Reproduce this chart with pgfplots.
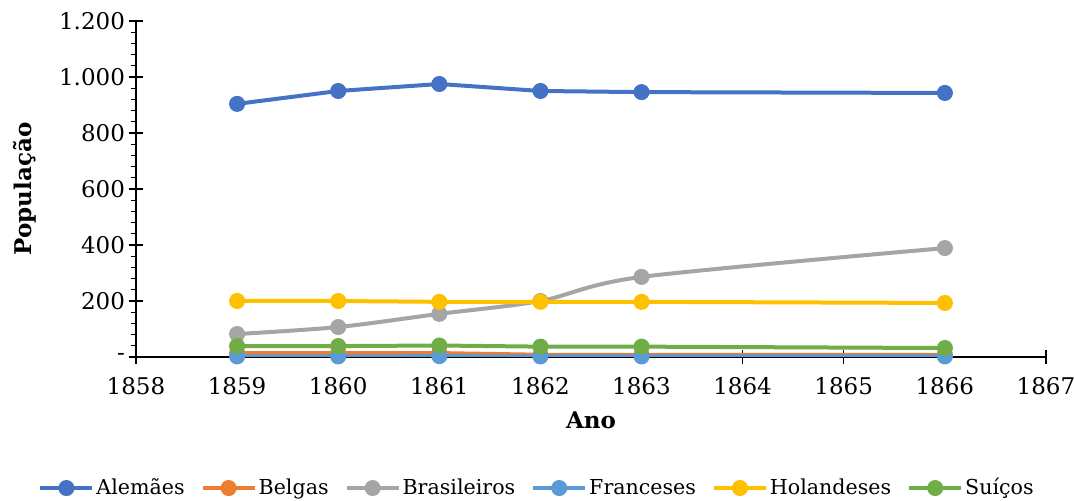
\documentclass[border=0pt]{standalone}
\usepackage{fontspec}
\setmainfont{DejaVu Serif}
\usepackage{pgfplots}
\pgfplotsset{compat=1.18}

\definecolor{cAle}{HTML}{4472C4}
\definecolor{cBel}{HTML}{ED7D31}
\definecolor{cBra}{HTML}{A5A5A5}
\definecolor{cFra}{HTML}{5B9BD5}
\definecolor{cHol}{HTML}{FFC000}
\definecolor{cSui}{HTML}{70AD47}

\begin{document}
\begin{tikzpicture}
\begin{axis}[
  name=ax,
  scale only axis,
  width=455pt, height=168pt,
  xmin=1858, xmax=1867,
  ymin=0, ymax=1200,
  xtick={1858,1859,...,1867},
  ytick={0,200,...,1200},
  yticklabels={-,200,400,600,800,{1.000},{1.200}},
  minor y tick num=4,
  axis x line=bottom, axis y line=left,
  axis line style={-, black, line width=0.6pt},
  tick align=center,
  major tick length=7pt,
  minor tick length=2.5pt,
  tick style={black, line width=0.6pt},
  minor y tick style={xshift=-1.25pt},
  /pgf/number format/assume math mode=true,
  /pgf/number format/1000 sep={},
  tick label style={font=\fontsize{11.5}{13}\selectfont},
  xticklabel style={yshift=-3pt},
  yticklabel style={xshift=1.5pt},
  xlabel={\textbf{Ano}},
  ylabel={\textbf{População}},
  xlabel style={at={(axis description cs:0.5,-0.1875)}, anchor=center, font=\fontsize{11.5}{13}\selectfont},
  ylabel style={at={(axis description cs:-0.122,0.5)}, anchor=center, font=\fontsize{11.5}{13}\selectfont},
  every axis plot/.append style={line width=2pt, mark=*, mark size=3pt, mark options={solid}},
  legend columns=6,
  legend style={at={(axis description cs:0.4407,-0.39)}, anchor=center, draw=none,
    font=\fontsize{10.3}{12}\selectfont,
    nodes={inner xsep=1pt},
    /tikz/every even column/.append style={column sep=7pt}},
  legend image code/.code={\draw[#1] (0pt,0pt) -- (13pt,0pt) -- (26pt,0pt); \draw[#1, mark repeat=2, mark phase=2] plot coordinates {(0pt,0pt) (13pt,0pt) (26pt,0pt)};},
]
\addplot[color=cAle] coordinates {(1859,904)(1860,950)(1861,975)(1862,950)(1863,946)(1866,943)};
\addlegendentry{Alemães}
\addplot[color=cBel] coordinates {(1859,14)(1860,14)(1861,14)(1862,8)(1863,8)(1866,8)};
\addlegendentry{Belgas}
\addplot[color=cBra, smooth] coordinates {(1859,82)(1860,107)(1861,154)(1862,200)(1863,286)(1866,389)};
\addlegendentry{Brasileiros}
\addplot[color=cFra] coordinates {(1859,2)(1860,2)(1861,3)(1862,2)(1863,2)(1866,2)};
\addlegendentry{Franceses}
\addplot[color=cHol] coordinates {(1859,200)(1860,200)(1861,197)(1862,197)(1863,197)(1866,193)};
\addlegendentry{Holandeses}
\addplot[color=cSui] coordinates {(1859,39)(1860,39)(1861,41)(1862,37)(1863,37)(1866,32)};
\addlegendentry{Suíços}
\end{axis}
\pgfresetboundingbox
\path ([xshift=-68pt,yshift=-72pt]ax.south west) rectangle ([xshift=14pt,yshift=10.5pt]ax.north east);
\end{tikzpicture}
\end{document}
